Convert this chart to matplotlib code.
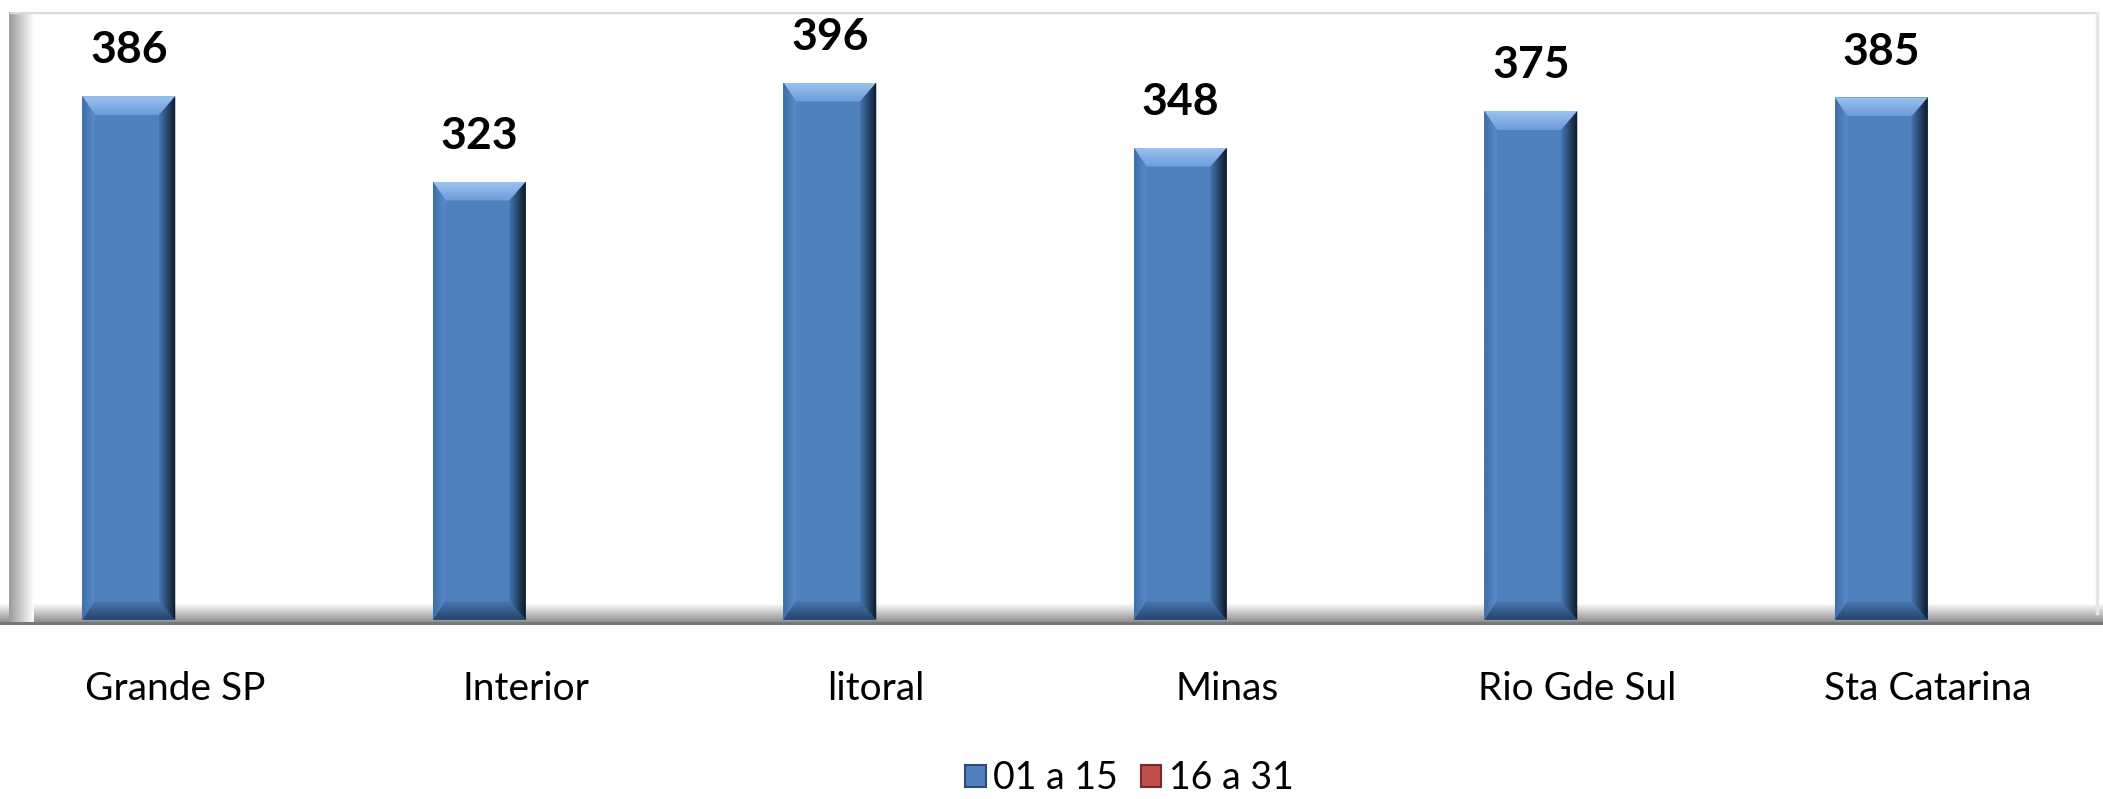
import numpy as np
import matplotlib
matplotlib.use("Agg")
import matplotlib.pyplot as plt
from matplotlib.patches import Polygon, Rectangle
from matplotlib.colors import LinearSegmentedColormap

plt.rcParams['font.family'] = ['Lato', 'DejaVu Sans']

# dados
categorias = ["Grande SP", "Interior", "litoral", "Minas", "Rio Gde Sul", "Sta Catarina"]
valores_01a15 = [386, 323, 396, 348, 375, 385]
valores_16a31 = [0, 0, 0, 0, 0, 0]
series = ["01 a 15", "16 a 31"]
cores = ["#4F81BD", "#C0504D"]

fig = plt.figure(figsize=(21.03, 7.99), dpi=100)
ax = fig.add_axes([0, 0.218, 1, 0.767])
YMIN, YMAX = -3.7, 448
XMIN, XMAX = -0.5, 5.5


def gradiente(ax, verts, c0, c1, horizontal=True, zorder=1, transform=None):
    """ preenche um poligono com gradiente linear """
    if transform is None:
        transform = ax.transData
    poly = Polygon(verts, closed=True, facecolor="none", edgecolor="none",
                   transform=transform)
    ax.add_patch(poly)
    xs = [v[0] for v in verts]
    ys = [v[1] for v in verts]
    cmap = LinearSegmentedColormap.from_list("g", [c0, c1])
    g = np.linspace(0, 1, 128)
    img = g[None, :] if horizontal else g[:, None]
    im = ax.imshow(img, cmap=cmap, aspect="auto", origin="lower",
                   extent=[min(xs), max(xs), min(ys), max(ys)],
                   interpolation="bicubic", zorder=zorder, transform=transform)
    im.set_clip_path(poly)
    return im


# chao (floor)
gradiente(ax, [(XMIN, YMIN), (XMAX, YMIN), (XMAX, 12), (XMIN, 12)],
          "#7E7E7E", "#FFFFFF", horizontal=False, zorder=1)
ax.add_patch(Rectangle((XMIN, YMIN), XMAX - XMIN, 2.4, color="#777777", zorder=1.5, lw=0))

# parede esquerda e bordas
gradiente(ax, [(0.0045, 0), (0.016, 0), (0.016, 1), (0.0045, 1)],
          "#9A9A9A", "#FFFFFF", horizontal=True, zorder=1, transform=ax.transAxes)
ax.plot([0.005, 0.997], [1, 1], color="#DADADA", lw=2.5, transform=ax.transAxes, zorder=1)
ax.plot([0.997, 0.997], [0.02, 1], color="#E6E6E6", lw=2.5, transform=ax.transAxes, zorder=1)

# barras
w = 0.265
x = np.arange(len(categorias))
barras = ax.bar(x - w / 2, valores_01a15, width=w, color=cores[0], zorder=3, lw=0)
ax.bar(x + w / 2, valores_16a31, width=w, color=cores[1], zorder=3, lw=0)

dx = 0.036
dy = 14
for b, v in zip(barras, valores_01a15):
    x0, x1 = b.get_x(), b.get_x() + b.get_width()
    y0, y1 = 0, b.get_height()
    # topo
    gradiente(ax, [(x0, y1), (x1, y1), (x1 - dx, y1 - dy), (x0 + dx, y1 - dy)],
              "#6C9CD8", "#9CC2F0", horizontal=False, zorder=4)
    # esquerda
    gradiente(ax, [(x0, y1), (x0 + dx, y1 - dy), (x0 + dx, y0 + dy), (x0, y0)],
              "#3F6DA6", "#5A8BCB", horizontal=True, zorder=4)
    # baixo
    gradiente(ax, [(x0, y0), (x0 + dx, y0 + dy), (x1 - dx, y0 + dy), (x1, y0)],
              "#24436B", "#4A78B2", horizontal=False, zorder=4)
    # direita
    gradiente(ax, [(x1, y1), (x1 - dx * 1.3, y1 - dy), (x1 - dx * 1.3, y0 + dy), (x1, y0)],
              "#4776B0", "#0C1828", horizontal=True, zorder=5)
    ax.text(b.get_x() + b.get_width() / 2, v + 19, str(v), ha="center", va="bottom",
            fontsize=32, fontweight="bold", color="black", zorder=6)

ax.set_xlim(XMIN, XMAX)
ax.set_ylim(YMIN, YMAX)
ax.set_xticks(x)
ax.set_xticklabels(categorias, fontsize=28)
ax.tick_params(axis="x", length=0, pad=33)
ax.set_yticks([])
for s in ax.spines.values():
    s.set_visible(False)

# legenda
handles = [Rectangle((0, 0), 1, 1, facecolor=cores[0], edgecolor="#2B4C75", lw=1.5),
           Rectangle((0, 0), 1, 1, facecolor=cores[1], edgecolor="#7A2B29", lw=1.5)]
fig.legend(handles, series, loc="center", bbox_to_anchor=(0.537, 0.026), ncol=2,
           frameon=False, fontsize=27, handlelength=0.55, handleheight=0.55,
           handletextpad=0.2, columnspacing=0.6)

fig.savefig("out.png", dpi=100)
